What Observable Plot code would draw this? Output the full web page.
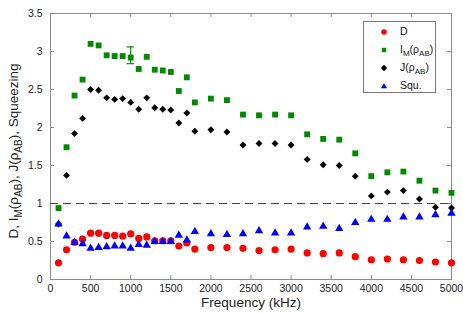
<!DOCTYPE html>
<html><head><meta charset="utf-8">
<script src="https://cdn.jsdelivr.net/npm/d3@7"></script>
<script src="https://cdn.jsdelivr.net/npm/@observablehq/plot@0.6"></script>
<style>
body{margin:0;background:#fff;font-family:"Liberation Sans",Arial,sans-serif;}
#wrap{position:relative;width:463px;height:314px;overflow:hidden;}
.legend{position:absolute;left:363px;top:21px;width:73px;height:72px;border:1px solid #777;background:#fff;font-size:10.5px;color:#111;box-sizing:border-box;}
.row{position:absolute;left:0;width:72px;height:16px;}
.row svg{position:absolute;left:14px;top:2px;}
.row span{position:absolute;left:36px;top:1px;white-space:nowrap;}
sub{font-size:8px;vertical-align:-3px;line-height:0;}
</style></head>
<body><div id="wrap"></div>
<script>
const freq = [100,200,300,400,500,600,700,800,900,1000,1100,1200,1300,1400,1500,1600,1700,1800,2000,2200,2400,2600,2800,3000,3200,3400,3600,3800,4000,4200,4400,4600,4800,5000];
const D   = [0.22,0.39,0.49,0.53,0.61,0.61,0.58,0.58,0.57,0.60,0.54,0.56,0.51,0.51,0.51,0.44,0.48,0.40,0.42,0.42,0.41,0.38,0.39,0.40,0.35,0.34,0.35,0.30,0.26,0.27,0.26,0.25,0.23,0.22];
const IM  = [0.94,1.74,2.42,2.63,3.10,3.08,2.95,2.94,2.94,2.92,2.77,2.93,2.76,2.75,2.73,2.48,2.66,2.33,2.38,2.36,2.17,2.16,2.17,2.16,1.91,1.85,1.84,1.66,1.36,1.41,1.42,1.30,1.17,1.14];
const J   = [0.73,1.37,1.92,2.12,2.50,2.49,2.39,2.37,2.38,2.33,2.24,2.39,2.26,2.24,2.23,2.06,2.19,1.95,1.97,1.94,1.77,1.79,1.79,1.77,1.58,1.51,1.50,1.36,1.10,1.15,1.17,1.06,0.95,0.94];
const Squ = [0.73,0.57,0.49,0.47,0.41,0.42,0.43,0.44,0.44,0.41,0.46,0.45,0.50,0.50,0.50,0.58,0.52,0.63,0.60,0.59,0.60,0.64,0.61,0.61,0.69,0.70,0.67,0.75,0.79,0.79,0.82,0.82,0.85,0.87];
// error bars (at 1000 kHz)
const errFreq = [1000];
const imLow = [2.84], imHigh = [3.06];
const jLow = [2.29], jHigh = [2.37];
const capHalf = 45; // cap half-width in kHz
const xTicks = [0,500,1000,1500,2000,2500,3000,3500,4000,4500,5000];
const yTicks = [0,0.5,1,1.5,2,2.5,3,3.5];
const threshold = [1];

const W = 463, H = 314, mt = 13, mb = 35, ml = 50, mr = 12;
const fh = H - mt - mb, fw = W - ml - mr;
const mk = arr => freq.map((f, i) => ({f, v: arr[i]}));
const errIM = errFreq.map((f, i) => ({f, lo: imLow[i], hi: imHigh[i]}));
const errJ = errFreq.map((f, i) => ({f, lo: jLow[i], hi: jHigh[i]}));
const capsIM = errIM.flatMap(d => [{f: d.f, v: d.lo}, {f: d.f, v: d.hi}]);
const GREEN = "#008a00";
const gray = "#8a8a8a";

const chart = Plot.plot({
  width: W, height: H,
  marginTop: mt, marginBottom: mb, marginLeft: ml, marginRight: mr,
  style: {fontFamily: "'Liberation Sans', Arial, sans-serif", fontSize: "10.5px", color: "#222", background: "#fff"},
  x: {type: "linear", domain: [0, 5000]},
  y: {type: "linear", domain: [0, 3.5]},
  marks: [
    Plot.frame({stroke: gray}),
    Plot.axisX({ticks: xTicks, tickSize: 0, tickPadding: 5, tickFormat: d => String(d), label: null, fill: "#222"}),
    Plot.axisY({ticks: yTicks, tickSize: 0, tickPadding: 8, tickFormat: d => String(d), label: null, fill: "#222"}),
    Plot.ruleX(xTicks, {x: d => d, insetTop: fh - 4, stroke: gray}),
    Plot.ruleX(xTicks, {x: d => d, insetBottom: fh - 4, stroke: gray}),
    Plot.ruleY(yTicks, {y: d => d, insetRight: fw - 4, stroke: gray}),
    Plot.ruleY(yTicks, {y: d => d, insetLeft: fw - 4, stroke: gray}),
    Plot.ruleY(threshold, {y: d => d, stroke: "#444", strokeDasharray: "8,5", strokeWidth: 1}),
    Plot.dot(mk(D), {x: "f", y: "v", r: 3.6, fill: "#ff0000", stroke: "none"}),
    Plot.ruleX(errIM, {x: "f", y1: "lo", y2: "hi", stroke: GREEN, strokeWidth: 1.2}),
    Plot.ruleY(capsIM, {y: "v", x1: d => d.f - capHalf, x2: d => d.f + capHalf, stroke: GREEN, strokeWidth: 1.2}),
    Plot.dot(mk(IM), {x: "f", y: "v", symbol: "square", r: 3.3, fill: GREEN, stroke: "none"}),
    Plot.ruleX(errJ, {x: "f", y1: "lo", y2: "hi", stroke: "#000", strokeWidth: 1.2}),
    Plot.dot(mk(J), {x: "f", y: "v", symbol: "diamond2", r: 3.1, fill: "#000", stroke: "none"}),
    Plot.dot(mk(Squ), {x: "f", y: "v", symbol: "triangle", r: 3.1, fill: "#0000ff", stroke: "none"}),
    Plot.text(["Frequency (kHz)"], {frameAnchor: "bottom", lineAnchor: "middle", dy: 23.5, fontSize: 13.5, fill: "#222"})
  ]
});

const svg = d3.select(chart);
const yl = svg.append("text")
  .attr("transform", "translate(18,151) rotate(-90)")
  .attr("text-anchor", "middle")
  .attr("font-size", 13.5)
  .attr("fill", "#222");
const parts = [["D, I", 0], ["M", 1], ["(\u03c1", -1], ["AB", 1], ["), J(\u03c1", -1], ["AB", 1], ["), Squeezing", -1]];
parts.forEach(([t, s]) => {
  const ts = yl.append("tspan").text(t);
  if (s === 1) ts.attr("dy", 3.5).attr("font-size", 10);
  if (s === -1) ts.attr("dy", -3.5);
});

const wrap = document.getElementById("wrap");
wrap.appendChild(chart);

const leg = document.createElement("div");
leg.className = "legend";
const entries = [
  ['<circle cx="6" cy="6" r="2.8" fill="#ff0000"/>', 'D'],
  ['<rect x="3.8" y="3.8" width="4.4" height="4.4" fill="' + GREEN + '"/>', 'I<sub>M</sub>(\u03c1<sub>AB</sub>)'],
  ['<path d="M6,2.8L9.2,6L6,9.2L2.8,6Z" fill="#000"/>', 'J(\u03c1<sub>AB</sub>)'],
  ['<path d="M6,3L9,8.3L3,8.3Z" fill="#0000ff"/>', 'Squ.']
];
entries.forEach(([sym, lab], i) => {
  const r = document.createElement("div");
  r.className = "row";
  r.style.top = (2 + i * 18) + "px";
  r.innerHTML = '<svg width="12" height="12">' + sym + '</svg><span>' + lab + '</span>';
  leg.appendChild(r);
});
wrap.appendChild(leg);
</script>
</body></html>
